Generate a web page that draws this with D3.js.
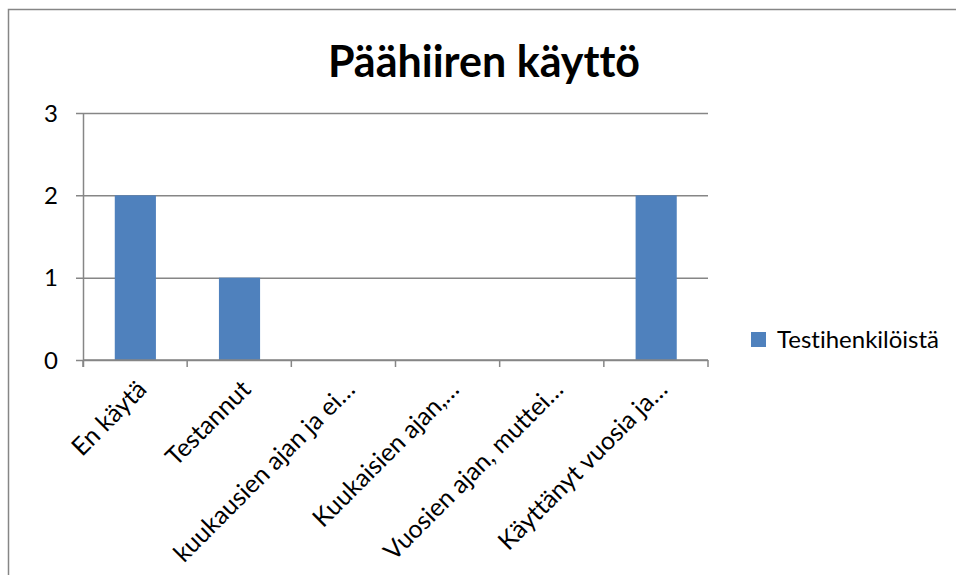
<!DOCTYPE html>
<html>
<head>
<meta charset="utf-8">
<script src="https://cdn.jsdelivr.net/npm/d3@7"></script>
<style>
  body { margin: 0; background: #fff; }
  svg { display: block; }
  text { font-family: Lato, "Open Sans", sans-serif; fill: #000; font-variant-ligatures: none; }
</style>
</head>
<body>
<svg width="956" height="575"></svg>
<script>
var title = "Päähiiren käyttö";
var categories = ["En käytä", "Testannut", "kuukausien ajan ja ei…", "Kuukaisien ajan,…", "Vuosien ajan, muttei…", "Käyttänyt vuosia ja…"];
var values = [2, 1, 0, 0, 0, 2];
var yTicks = [0, 1, 2, 3];
var seriesName = "Testihenkilöistä";

var svg = d3.select("svg");
var margin = {top: 113, right: 248, bottom: 215, left: 83};
var width = 956 - margin.left - margin.right,
    height = 575 - margin.top - margin.bottom;

// outer chart border (right/bottom edges fall outside the picture)
svg.append("rect")
    .attr("x", 8.5).attr("y", 9.5)
    .attr("width", 1000).attr("height", 1000)
    .attr("fill", "none").attr("stroke", "#868686").attr("stroke-width", 1.5);

var g = svg.append("g").attr("transform", "translate(" + margin.left + "," + margin.top + ")");

var x = d3.scaleBand().domain(categories).range([0, width]).padding(0);
var y = d3.scaleLinear().domain([0, 3]).range([height, 0]);

// gridlines + left ticks
g.append("g")
    .call(d3.axisLeft(y).tickValues(yTicks).tickSize(-width - 7).tickFormat(""))
    .attr("transform", "translate(-7,0)")
    .call(function(s) {
      s.select(".domain").remove();
      s.selectAll("line").attr("stroke", "#868686").attr("stroke-width", 1.5);
    });

// y labels
g.selectAll(".ylab").data(yTicks).enter().append("text")
    .attr("x", -25).attr("y", function(d) { return y(d); })
    .attr("dy", "0.36em")
    .attr("text-anchor", "end")
    .style("font-size", "24px")
    .text(function(d) { return d; });

// bars
g.selectAll(".bar").data(values).enter().append("rect")
    .attr("x", function(d, i) { return x(categories[i]) + x.bandwidth() * 0.305; })
    .attr("width", x.bandwidth() * 0.395)
    .attr("y", function(d) { return y(d); })
    .attr("height", function(d) { return height - y(d); })
    .attr("fill", "#4F81BD");

// y axis line
g.append("line")
    .attr("x1", 0.5).attr("x2", 0.5).attr("y1", 0).attr("y2", height + 7)
    .attr("stroke", "#868686").attr("stroke-width", 1.5);

// x axis line and ticks at category boundaries
g.append("line")
    .attr("x1", 0).attr("x2", width).attr("y1", height).attr("y2", height)
    .attr("stroke", "#868686").attr("stroke-width", 1.5);
var bounds = categories.map(function(c) { return x(c); }).concat([width]);
g.selectAll(".xtick").data(bounds).enter().append("line")
    .attr("x1", function(d) { return d; }).attr("x2", function(d) { return d; })
    .attr("y1", height).attr("y2", height + 7)
    .attr("stroke", "#868686").attr("stroke-width", 1.5);

// x labels rotated
g.selectAll(".xlab").data(categories).enter().append("text")
    .attr("text-anchor", "end")
    .style("font-size", "25px")
    .attr("transform", function(d) {
      return "translate(" + (x(d) + x.bandwidth() / 2 + 13) + "," + (height + 31) + ") rotate(-45)";
    })
    .text(function(d) { return d; });

// title
svg.append("text")
    .attr("x", 484).attr("y", 77)
    .attr("text-anchor", "middle")
    .style("font-size", "43px").style("font-weight", "bold")
    .text(title);

// legend
var lg = svg.append("g").attr("transform", "translate(751,332)");
lg.append("rect").attr("width", 15).attr("height", 15).attr("fill", "#4F81BD");
lg.append("text").attr("x", 26).attr("y", 15.5).style("font-size", "24px").text(seriesName);
</script>
</body>
</html>
